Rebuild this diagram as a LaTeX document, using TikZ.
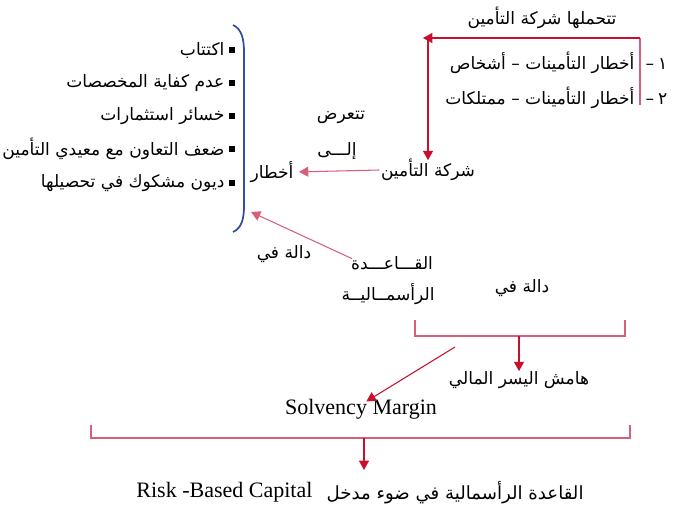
\documentclass[tikz,border=0pt]{standalone}
\usepackage{fontspec}
\setmainfont{Liberation Serif}
\newfontfamily\arabicfont[Script=Arabic]{DejaVu Sans}
\TeXXeTstate=1
\usetikzlibrary{positioning, arrows.meta}

\definecolor{riskred}{RGB}{200,16,46}
\definecolor{riskpink}{RGB}{214,96,122}
\definecolor{bracketblue}{RGB}{48,78,160}
\newcommand{\artxt}[1]{\beginR #1\endR}

\begin{document}
\begin{tikzpicture}[
  x=0.75pt, y=-0.75pt,
  every node/.style={inner sep=1pt},
  atext/.style={font=\arabicfont\fontsize{12.8}{14}\selectfont},
  btext/.style={font=\arabicfont\fontsize{13.6}{15}\selectfont},
  ltext/.style={font=\fontsize{16.5}{19}\selectfont},
  bullet/.style={fill=black, minimum size=4.5pt, inner sep=0pt},
  redlink/.style={riskred, line width=0.8pt},
  pinklink/.style={riskpink, line width=0.8pt},
  tip/.style={-{Triangle[length=7pt,width=7.5pt]}},
]
\useasboundingbox (0,0) rectangle (679,507);

% Risks borne by the company
\node[atext] (borne) at (542,18) {\artxt{تتحملها شركة التأمين}};
\node[atext, anchor=east] (persons) at (636,63) {\artxt{أخطار التأمينات – أشخاص}};
\node[atext, anchor=base west] (dash1) at ([xshift=6pt]persons.base east) {–};
\node[atext, anchor=base west] (num1) at ([xshift=0.5pt]dash1.base east) {١};
\node[atext, anchor=east] (property) at (636,98) {\artxt{أخطار التأمينات – ممتلكات}};
\node[atext, anchor=base west] (dash2) at ([xshift=6pt]property.base east) {–};
\node[atext, anchor=base west] (num2) at ([xshift=0.5pt]dash2.base east) {٢};

\node[atext] (company) at (428,170) {\artxt{شركة التأمين}};
\node[atext] (exposed) at (341,117) {\artxt{تتعرض}};
\node[atext] (to) at (337,151) {\artxt{إلـــى}};
\node[atext] (risks) at (272,172) {\artxt{أخطار}};

\coordinate (listend) at (640,105);
\coordinate (corner) at (640,38);
\coordinate (lefttip) at (423,38);
\coordinate (downstart) at (428,38);

\draw[pinklink] (listend) -- (corner);
\draw[redlink, tip] (corner) -- (lefttip);
\draw[redlink, tip] (downstart) -- ([yshift=-2pt]company.north);
\draw[pinklink, tip, shorten >=3pt] (company.west) -- (risks.east);

% Risk list with the bracket
\foreach \yy/\txt [count=\i] in {50/اكتتاب,83/عدم كفاية المخصصات,116/خسائر استثمارات,149/ضعف التعاون مع معيدي التأمين,183/ديون مشكوك في تحصيلها} {
  \node[bullet] (b\i) at (232,\yy) {};
  \node[atext, anchor=east] (item\i) at (226,\yy) {\artxt{\txt}};
}
\draw[bracketblue, line width=1.3pt] (233,25) .. controls (242,29) and (244,40) .. (244,52)
  -- (244,206) .. controls (244,218) and (242,228) .. (233,232);

% Capital base
\node[atext] (capital) at (392,263) {\artxt{القـــاعـــدة}};
\node[atext] (capital2) at (388,294) {\artxt{الرأسمــاليــة}};
\node[atext] (func1) at (284,254) {\artxt{دالة في}};
\node[atext] (func2) at (522,288) {\artxt{دالة في}};
\coordinate (brackettip) at (251,212);
\draw[pinklink, tip] ([xshift=2pt,yshift=-3pt]capital.north west) -- (brackettip);

% Solvency margin
\coordinate (b2l) at (415,320);
\coordinate (b2r) at (625,320);
\coordinate (b2m) at (519,336);
\node[atext] (margin) at (519,380) {\artxt{هامش اليسر المالي}};
\draw[pinklink] (b2l) |- (b2r |- b2m) -- (b2r);
\draw[redlink, tip] (b2m) -- ([yshift=-1pt]margin.north);
\coordinate (marginleft) at (455,347);
\node[ltext] (solvency) at (361,409) {Solvency Margin};
\draw[redlink, tip] (marginleft) -- ([xshift=4pt,yshift=-3pt]solvency.north);

% Risk-based capital
\coordinate (b3l) at (91,425);
\coordinate (b3r) at (630,425);
\coordinate (b3m) at (364,438);
\coordinate (b3tip) at (364,470);
\draw[pinklink] (b3l) |- (b3r |- b3m) -- (b3r);
\draw[redlink, tip] (b3m) -- (b3tip);
\node[ltext, anchor=east] (rbc) at (314,492) {Risk -Based Capital};
\node[btext, anchor=west] (rbcar) at (325,493) {\artxt{القاعدة الرأسمالية في ضوء مدخل}};
\end{tikzpicture}
\end{document}
